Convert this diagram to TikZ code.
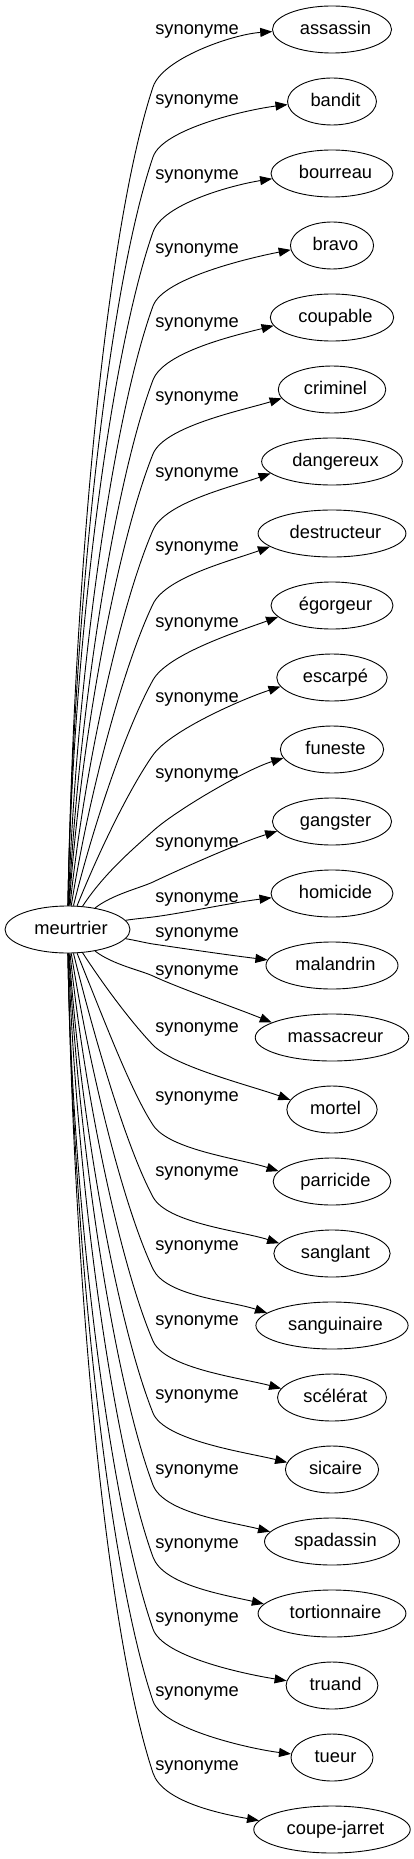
\documentclass[tikz,border=0pt]{standalone}
\usepackage{fontspec}
\setmainfont{Liberation Sans}
\usetikzlibrary{shapes.geometric,arrows.meta}
\begin{document}
\begin{tikzpicture}[x=1pt,y=1pt,
    every node/.style={font=\fontsize{18.3}{22}\selectfont, text height=13pt, text depth=3.7pt},
    word/.style={draw, ellipse, line width=0.9pt, inner xsep=3pt, inner ysep=2pt, minimum width=82pt, minimum height=47pt,
      execute at begin node=\hspace*{7pt}},
    rel/.style={inner sep=0pt},
    edge/.style={line width=0.9pt, -{Triangle[length=12pt,width=9pt]}}]
  \useasboundingbox (0,0) rectangle (414,-1859);
  \node[word, minimum width=125pt] (meurtrier) at (67.5,-929.5) {meurtrier};
  % one synonym per row: name/text/label y/bend y/arrival angle
  \foreach \nm/\word/\lab/\bend/\arr [count=\i from 0] in {
      assassin/assassin/30/87/4, bandit/bandit/100/157/7, bourreau/bourreau/175/232/9,
      bravo/bravo/249/306/11, coupable/coupable/323/380/14, criminel/criminel/397/454/17,
      dangereux/dangereux/473/530/19, destructeur/destructeur/547/604/20,
      egorgeur/égorgeur/623/680/20, escarpe/escarpé/698/755/18, funeste/funeste/774/831/17,
      gangster/gangster/843/882/17, homicide/homicide/898/917/7,
      malandrin/malandrin/933/944/-7, massacreur/massacreur/971/976/-22,
      mortel/mortel/1028/1045/-20, parricide/parricide/1097/1125/-18,
      sanglant/sanglant/1172/1197/-18, sanguinaire/sanguinaire/1246/1269/-18,
      scelerat/scélérat/1321/1341/-15, sicaire/sicaire/1395/1413/-14,
      spadassin/spadassin/1470/1485/-14, tortionnaire/tortionnaire/1544/1557/-13,
      truand/truand/1618/1629/-9, tueur/tueur/1692/1701/-7,
      coupejarret/coupe-jarret/1766/1773/-10}{
    \pgfmathsetmacro\ty{29.5+72*\i}
    \pgfmathsetmacro\sgn{\i<13 ? 1 : -1}
    \pgfmathsetmacro\kk{\i<13 ? 12-\i : \i-13}
    \pgfmathtruncatemacro\ang{\sgn*(90-81*exp(-0.45*\kk))}
    \pgfmathsetmacro\dd{abs(929.5-\bend)}
    \pgfmathsetmacro\tang{\sgn*0.85*atan(\dd/83)}
    \pgfmathsetmacro\tangb{\tang+180}
    \pgfmathsetmacro\lena{0.36*\dd+5}
    \pgfmathsetmacro\lenb{0.18*\dd+5}
    \pgfmathtruncatemacro\tip{180+0.6*\arr}
    \pgfmathsetmacro\arrb{180+\arr}
    \node[word] (\nm) at (332,-\ty) {\word};
    \node[rel] (syn\i) at (197,-\lab) {synonyme};
    \draw[edge] (meurtrier.\ang) .. controls +(\ang:\lena) and +(\tangb:\lenb) .. (153,-\bend)
      .. controls +(\tang:30) and +(\arrb:40) .. (\nm.\tip);
  }
\end{tikzpicture}
\end{document}
